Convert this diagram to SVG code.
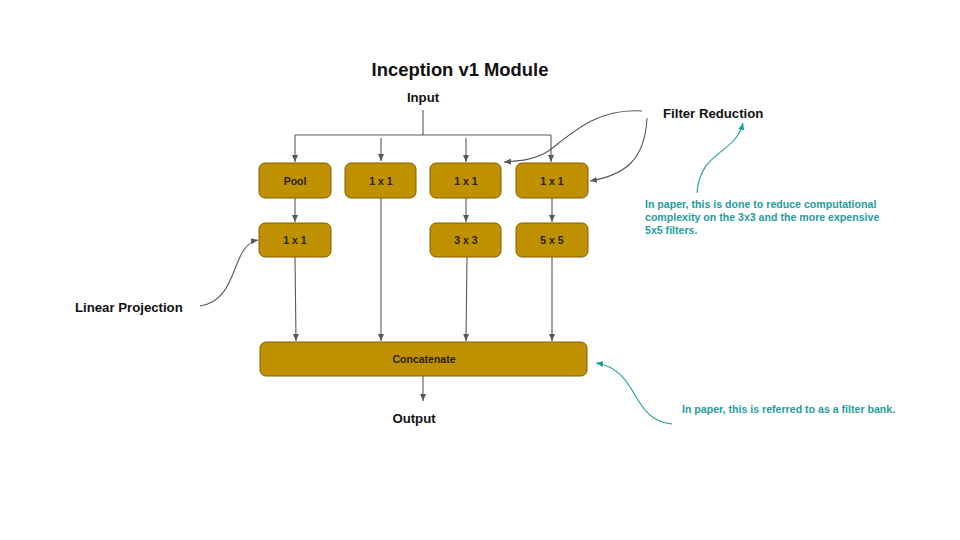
<svg xmlns="http://www.w3.org/2000/svg" width="960" height="540" viewBox="0 0 960 540">
<defs>
<style>
.box{fill:#bf9000;stroke:#7f6000;stroke-width:1}
.bt{font-family:"Liberation Sans",Arial,sans-serif;font-weight:bold;font-size:10.5px;fill:#2a1f00;text-anchor:middle}
.lbl{font-family:"Liberation Sans",Arial,sans-serif;font-weight:bold;font-size:13.2px;fill:#111}
.note{font-family:"Liberation Sans",Arial,sans-serif;font-weight:bold;font-size:10.6px;fill:#1f9c9c}
.ln{fill:none;stroke:#595959;stroke-width:1.1}
.tl{fill:none;stroke:#1f9c9c;stroke-width:1.1}
</style>
<marker id="ar" markerWidth="8" markerHeight="8" refX="7" refY="4" orient="auto" markerUnits="userSpaceOnUse">
<path d="M0,1 L7,4 L0,7 Z" fill="#595959"/>
</marker>
<marker id="at" markerWidth="8" markerHeight="8" refX="7" refY="4" orient="auto" markerUnits="userSpaceOnUse">
<path d="M0,1 L7,4 L0,7 Z" fill="#1f9c9c"/>
</marker>
</defs>
<rect width="960" height="540" fill="#fff"/>
<text x="460" y="76" font-family="'Liberation Sans',Arial,sans-serif" font-weight="bold" font-size="18.4" fill="#111" text-anchor="middle">Inception v1 Module</text>
<g id="connectors">
<path class="ln" d="M423,110 V135 M295,135 H551"/>
<path class="ln" d="M295,135 V162" marker-end="url(#ar)"/>
<path class="ln" d="M381,138 V161" marker-end="url(#ar)"/>
<path class="ln" d="M466,138 V162" marker-end="url(#ar)"/>
<path class="ln" d="M551,135 V162" marker-end="url(#ar)"/>
<path class="ln" d="M295,198 V222" marker-end="url(#ar)"/>
<path class="ln" d="M466,198 V222" marker-end="url(#ar)"/>
<path class="ln" d="M552,198 V222" marker-end="url(#ar)"/>
<path class="ln" d="M295,257 L296,341" marker-end="url(#ar)"/>
<path class="ln" d="M381,198 V341" marker-end="url(#ar)"/>
<path class="ln" d="M467,257 L466,341" marker-end="url(#ar)"/>
<path class="ln" d="M552,257 V341" marker-end="url(#ar)"/>
<path class="ln" d="M423,376 V401" marker-end="url(#ar)"/>
<path class="ln" d="M642,111 C600,108 575,130 550,150 C535,160 520,161 504,162" marker-end="url(#ar)"/>
<path class="ln" d="M647,118 C645,160 625,175 590,181" marker-end="url(#ar)"/>
<path class="ln" d="M200,306 C240,300 230,245 258,240" marker-end="url(#ar)"/>
<path class="tl" d="M697,193 C700,150 735,155 743,123" marker-end="url(#at)"/>
<path class="tl" d="M672,424 C630,420 640,370 596,363" marker-end="url(#at)"/>
</g>
<g id="pool"><rect class="box" x="259" y="163" width="72" height="35" rx="6"/><text class="bt" x="295" y="185">Pool</text></g>
<g id="conv1x1a"><rect class="box" x="345" y="163" width="71" height="35" rx="6"/><text class="bt" x="381" y="185">1 x 1</text></g>
<g id="conv1x1b"><rect class="box" x="430" y="163" width="71" height="35" rx="6"/><text class="bt" x="466" y="185">1 x 1</text></g>
<g id="conv1x1c"><rect class="box" x="516" y="163" width="72" height="35" rx="6"/><text class="bt" x="552" y="185">1 x 1</text></g>
<g id="conv1x1d"><rect class="box" x="259" y="223" width="72" height="34" rx="6"/><text class="bt" x="295" y="244">1 x 1</text></g>
<g id="conv3x3"><rect class="box" x="430" y="223" width="71" height="34" rx="6"/><text class="bt" x="466" y="244">3 x 3</text></g>
<g id="conv5x5"><rect class="box" x="516" y="223" width="72" height="34" rx="6"/><text class="bt" x="552" y="244">5 x 5</text></g>
<g id="concat"><rect class="box" x="260" y="342" width="327" height="34" rx="6"/><text class="bt" x="424" y="363">Concatenate</text></g>
<g id="input"><text class="lbl" x="423" y="102" text-anchor="middle">Input</text></g>
<g id="output"><text class="lbl" x="414" y="423" text-anchor="middle">Output</text></g>
<g id="filter-reduction"><text class="lbl" x="663" y="118">Filter Reduction</text></g>
<g id="linear-projection"><text class="lbl" x="75" y="312">Linear Projection</text></g>
<g id="note-reduction"><text class="note" x="645" y="208">In paper, this is done to reduce computational</text><text class="note" x="645" y="221">complexity on the 3x3 and the more expensive</text><text class="note" x="645" y="234">5x5 filters.</text></g>
<g id="note-bank"><text class="note" x="682" y="413">In paper, this is referred to as a filter bank.</text></g>
</svg>
